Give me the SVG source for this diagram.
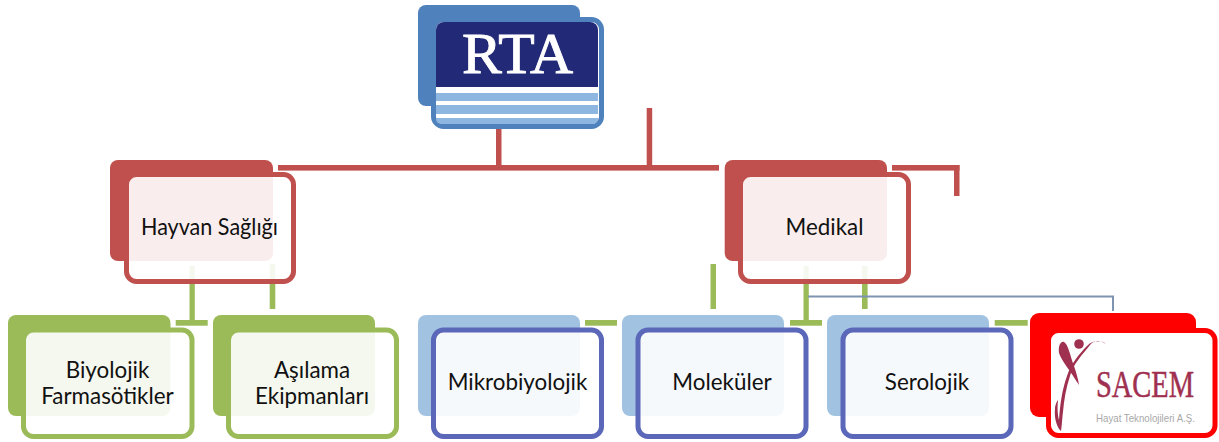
<svg xmlns="http://www.w3.org/2000/svg" width="1219" height="442" viewBox="0 0 1219 442">
<style>
.back{stroke:none}
.front{fill:#fff;fill-opacity:.9;stroke-width:5}
.red{fill:#C0504D}.redS{stroke:#C0504D}
.green{fill:#9BBB59}.greenS{stroke:#9BBB59}
.blue{fill:#A1C3E1}.blueS{stroke:#5B67B8}
.l{font-family:"Lato","Liberation Sans",sans-serif;font-size:22.4px;fill:#111;text-anchor:middle}
</style>
<rect width="1219" height="442" fill="#fff"/>
<g id="connectors">
<g fill="#C0504D">
<rect x="278" y="165" width="441" height="5.6"/>
<rect x="892" y="165" width="67.500" height="5.6"/>
<rect x="954" y="165" width="5.500" height="31"/>
<rect x="496" y="128" width="5.500" height="40"/>
<rect x="646.700" y="108" width="5.500" height="60"/>
</g>
<g fill="#9BBB59">
<rect x="189.500" y="266" width="5.300" height="58"/>
<rect x="175.700" y="320" width="32" height="5.700"/>
<rect x="269.700" y="264" width="5.600" height="45"/>
<rect x="585" y="320" width="32" height="5.700"/>
<rect x="710.500" y="264" width="5.500" height="45"/>
<rect x="803.500" y="266" width="5.300" height="58"/>
<rect x="790" y="320" width="32" height="5.700"/>
<rect x="862" y="266" width="5.600" height="43"/>
<rect x="994.700" y="320" width="33" height="5.700"/>
</g>
<path d="M808 296.500H1113V311" fill="none" stroke="#7F93B2" stroke-width="2"/>
</g>
<g id="node-rta">
<rect class="back" x="418" y="5" width="162" height="101" rx="8" fill="#4F81BD"/>
<rect x="433.500" y="19.500" width="168" height="107" rx="10" fill="#fff" stroke="#4F81BD" stroke-width="5"/>
<path d="M436 30a8 8 0 0 1 8-8H590a8 8 0 0 1 8 8V87H436Z" fill="#222A78"/>
<path d="M436 93H598V101H436ZM436 105H598V114H436ZM436 118H598V119a5 5 0 0 1-5 5H441a5 5 0 0 1-5-5Z" fill="#8DB6E0"/>
<text x="517.500" y="72.500" font-family="'Liberation Serif',serif" font-size="57" fill="#fff" stroke="#fff" stroke-width=".9" text-anchor="middle" textLength="111" lengthAdjust="spacingAndGlyphs">RTA</text>
</g>
<g id="node-hayvan">
<rect class="back red" x="110" y="160" width="163" height="101" rx="8"/>
<rect class="front redS" x="126.500" y="174.500" width="167" height="107" rx="10"/>
<text class="l" x="209.500" y="235" textLength="137" lengthAdjust="spacingAndGlyphs">Hayvan Sağlığı</text>
</g>
<g id="node-medikal">
<rect class="back red" x="724.700" y="160" width="162.300" height="101" rx="8"/>
<rect class="front redS" x="740.500" y="174.500" width="168" height="107" rx="10"/>
<text class="l" x="824.500" y="235">Medikal</text>
</g>
<g id="node-biyolojik">
<rect class="back green" x="8" y="315" width="162.500" height="101" rx="8"/>
<rect class="front greenS" x="23.500" y="330" width="168.500" height="106.500" rx="10"/>
<text class="l" x="107.500" y="377.500">Biyolojik</text>
<text class="l" x="107.500" y="403.500">Farmasötikler</text>
</g>
<g id="node-asilama">
<rect class="back green" x="213" y="315" width="162" height="101" rx="8"/>
<rect class="front greenS" x="228.500" y="330" width="168" height="106.500" rx="10"/>
<text class="l" x="312" y="377.500">Aşılama</text>
<text class="l" x="312" y="403.500">Ekipmanları</text>
</g>
<g id="node-mikro">
<rect class="back blue" x="418" y="315" width="162" height="101" rx="8"/>
<rect class="front blueS" x="433.500" y="330" width="168" height="106.500" rx="10"/>
<text class="l" x="517.500" y="390">Mikrobiyolojik</text>
</g>
<g id="node-molekuler">
<rect class="back blue" x="622" y="315" width="162" height="101" rx="8"/>
<rect class="front blueS" x="638" y="330" width="168" height="106.500" rx="10"/>
<text class="l" x="722" y="390">Moleküler</text>
</g>
<g id="node-serolojik">
<rect class="back blue" x="827" y="315" width="162" height="101" rx="8"/>
<rect class="front blueS" x="843" y="330" width="168" height="106.500" rx="10"/>
<text class="l" x="927" y="390">Serolojik</text>
</g>
<g id="node-sacem">
<rect x="1030" y="313" width="166" height="104" rx="9" fill="#F00"/>
<rect x="1048.500" y="330.500" width="166.500" height="105" rx="10" fill="#fff" stroke="#F00" stroke-width="5"/>
<circle cx="1079" cy="344" r="4.800" fill="#A03050"/>
<path d="M1059 353C1058 345 1061 341 1064 342C1068 344 1070 355 1074 366C1076 372 1078 378 1079 385L1075 379C1070 370 1062 362 1059 353Z" fill="#A03050"/>
<path d="M1106 344C1100 340 1094 340 1090 345C1083 354 1073 364 1070 376C1066 388 1064 400 1063 412C1062 420 1062 425 1061 431C1057 428 1054 418 1055 409C1055 405 1057 401 1058 400C1057 410 1058 416 1059 420C1060 405 1062 390 1067 376C1071 364 1079 354 1087 346C1092 341 1100 339 1106 344Z" fill="#A03050"/>
<text transform="translate(1145 397) scale(.95 1.27)" font-family="'Liberation Serif',serif" font-size="30" fill="#A03050" stroke="#A03050" stroke-width=".4" text-anchor="middle">SACEM</text>
<text x="1145.500" y="421.500" font-family="'Liberation Sans',sans-serif" font-size="11.500" fill="#A8A8A8" text-anchor="middle" textLength="99" lengthAdjust="spacingAndGlyphs">Hayat Teknolojileri A.Ş.</text>
</g>
</svg>
